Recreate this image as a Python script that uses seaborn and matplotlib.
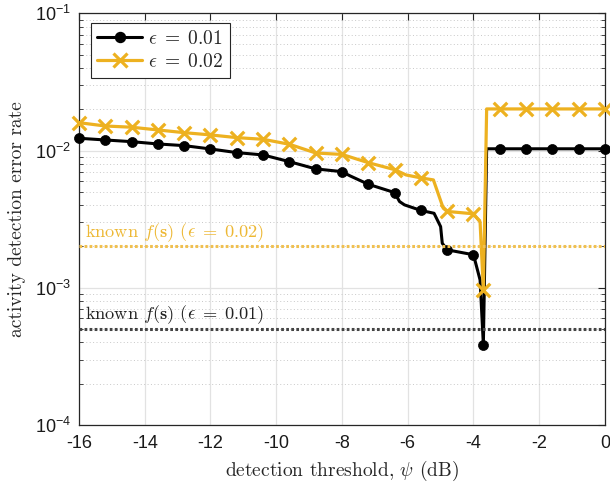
import matplotlib
matplotlib.use("Agg")
import matplotlib.pyplot as plt
from matplotlib.lines import Line2D
from matplotlib.ticker import FixedLocator, FixedFormatter, LogLocator, NullFormatter
import pandas as pd
import seaborn as sns

# Thresholds (dB) where markers are drawn; -3.7 dB is the minimum-error point
marker_db = [-16, -15.2, -14.4, -13.6, -12.8, -12, -11.2, -10.4, -9.6, -8.8, -8,
             -7.2, -6.4, -5.6, -4.8, -4, -3.7, -3.2, -2.4, -1.6, -0.8, 0]

# Activity detection error rate at the marker thresholds
err_eps001 = [0.01229, 0.01194, 0.01161, 0.01117, 0.01086, 0.01027, 0.00966, 0.00929,
              0.00830, 0.00735, 0.00702, 0.00568, 0.00494, 0.00366, 0.00189, 0.00174,
              0.000384, 0.0103, 0.0103, 0.0103, 0.0103, 0.0103]
err_eps002 = [0.01596, 0.0151, 0.01479, 0.01413, 0.0135, 0.0130, 0.01242, 0.01208,
              0.01111, 0.00960, 0.00937, 0.00816, 0.00726, 0.00632, 0.00360, 0.00346,
              0.000965, 0.0201, 0.0201, 0.0201, 0.0201, 0.0201]

# Extra curve samples at the steps between markers
bend_db_eps001 = [-7.75, -6.25, -6.1, -5.2, -5.0, -4.95, -3.8, -3.6]
bend_err_eps001 = [0.00653, 0.00425, 0.00402, 0.00349, 0.00279, 0.00211, 0.00114, 0.0103]
bend_db_eps002 = [-6.05, -5.22, -4.92, -3.8, -3.6]
bend_err_eps002 = [0.00664, 0.00611, 0.00380, 0.00302, 0.0201]

# Error rate when f(s) is known
known_eps001 = 0.0005
known_eps002 = 0.002

x_ticks = [-16, -14, -12, -10, -8, -6, -4, -2, 0]
y_ticks = [1e-4, 1e-3, 1e-2, 1e-1]
y_tick_labels = [r"$10^{-4}$", r"$10^{-3}$", r"$10^{-2}$", r"$10^{-1}$"]

BLACK = "#000000"
GOLD = "#EDB120"

sns.set_style("white")
plt.rcParams.update({
    "font.family": ["Liberation Sans", "DejaVu Sans"],
    "mathtext.fontset": "custom",
    "mathtext.rm": "Liberation Sans",
    "mathtext.it": "Liberation Sans:italic",
    "mathtext.bf": "Liberation Sans:bold",
    "axes.unicode_minus": False,
})

fig = plt.figure(figsize=(6.1, 4.88), dpi=100)
ax = fig.add_axes([0.1295, 0.1291, 0.8623, 0.8436])


def curve(db, err, bend_db, bend_err):
    df = pd.DataFrame({"db": list(db) + list(bend_db), "err": list(err) + list(bend_err)})
    return df.sort_values("db").reset_index(drop=True)


c1 = curve(marker_db, err_eps001, bend_db_eps001, bend_err_eps001)
c2 = curve(marker_db, err_eps002, bend_db_eps002, bend_err_eps002)

sns.lineplot(data=c1, x="db", y="err", color=BLACK, lw=2.2, estimator=None, sort=False, ax=ax, zorder=3)
sns.scatterplot(x=marker_db, y=err_eps001, color=BLACK, marker="o", s=52, edgecolor=BLACK,
                linewidth=0.5, ax=ax, zorder=4, clip_on=False)
sns.lineplot(data=c2, x="db", y="err", color=GOLD, lw=2.3, estimator=None, sort=False, ax=ax, zorder=5)
sns.scatterplot(x=marker_db, y=err_eps002, color=GOLD, marker="x", s=95, linewidth=2.3,
                ax=ax, zorder=6, clip_on=False)

# Reference levels with known f(s)
ax.axhline(known_eps002, color="#F0C050", lw=2.2, linestyle=(0, (0.9, 0.75)), zorder=7)
ax.axhline(known_eps001, color="#444444", lw=2.2, linestyle=(0, (0.9, 0.75)), zorder=7)
ax.text(-15.82, 0.00235, r"known $f(\mathbf{s})$ $(\epsilon\;=\;0.02)$", color="#EDB834",
        fontsize=13.2, family="cmr10", math_fontfamily="cm", va="baseline", ha="left")
ax.text(-15.82, 0.00059, r"known $f(\mathbf{s})$ $(\epsilon\;=\;0.01)$", color="#222222",
        fontsize=13.2, family="cmr10", math_fontfamily="cm", va="baseline", ha="left")

ax.set_yscale("log")
ax.set_xlim(-16, 0)
ax.set_ylim(1e-4, 1e-1)
ax.xaxis.set_major_locator(FixedLocator(x_ticks))
ax.set_xticklabels([str(t) for t in x_ticks])
ax.yaxis.set_major_locator(FixedLocator(y_ticks))
ax.yaxis.set_major_formatter(FixedFormatter(y_tick_labels))
ax.yaxis.set_minor_locator(LogLocator(base=10, subs=[2, 3, 4, 5, 6, 7, 8, 9], numticks=20))
ax.yaxis.set_minor_formatter(NullFormatter())

ax.tick_params(axis="both", which="major", direction="in", length=5, width=0.8,
               color="#262626", labelsize=13, labelcolor="#1a1a1a", top=True, right=True)
ax.tick_params(axis="x", which="major", pad=7)
ax.tick_params(axis="y", which="major", pad=6)
ax.tick_params(axis="y", which="minor", direction="in", length=3, width=0.6,
               color="#262626", right=True, left=True)

ax.set_axisbelow(True)
ax.grid(which="major", color="#E2E2E2", lw=0.9, linestyle="-")
ax.grid(which="minor", axis="y", color="#C8C8C8", lw=0.7, linestyle=(0, (1, 2.5)))
for side in ax.spines.values():
    side.set_color("#262626")
    side.set_linewidth(0.9)

ax.set_xlabel(r"detection threshold, $\psi$ (dB)", family="cmr10", math_fontfamily="cm",
              fontsize=14, color="#262626", labelpad=5)
ax.set_ylabel("activity detection error rate", family="cmr10", fontsize=14, color="#262626")
ax.yaxis.set_label_coords(-0.1, 0.5)

handles = [
    Line2D([], [], color=BLACK, lw=2.2, marker="o", ms=7.2),
    Line2D([], [], color=GOLD, lw=2.3, marker="x", ms=9.5, mew=2.3),
]
leg = ax.legend(handles, [r"$\epsilon\;=\;0.01$", r"$\epsilon\;=\;0.02$"], loc="upper left",
                bbox_to_anchor=(0.022, 0.976), borderaxespad=0, fancybox=False,
                framealpha=1, edgecolor="#262626", fontsize=14, handlelength=2.3,
                handletextpad=0.3, labelspacing=0.25, borderpad=0.35)
leg.get_frame().set_linewidth(0.8)
for t in leg.get_texts():
    t.set_math_fontfamily("cm")
leg.set_zorder(10)

fig.savefig("out.png", dpi=100)
